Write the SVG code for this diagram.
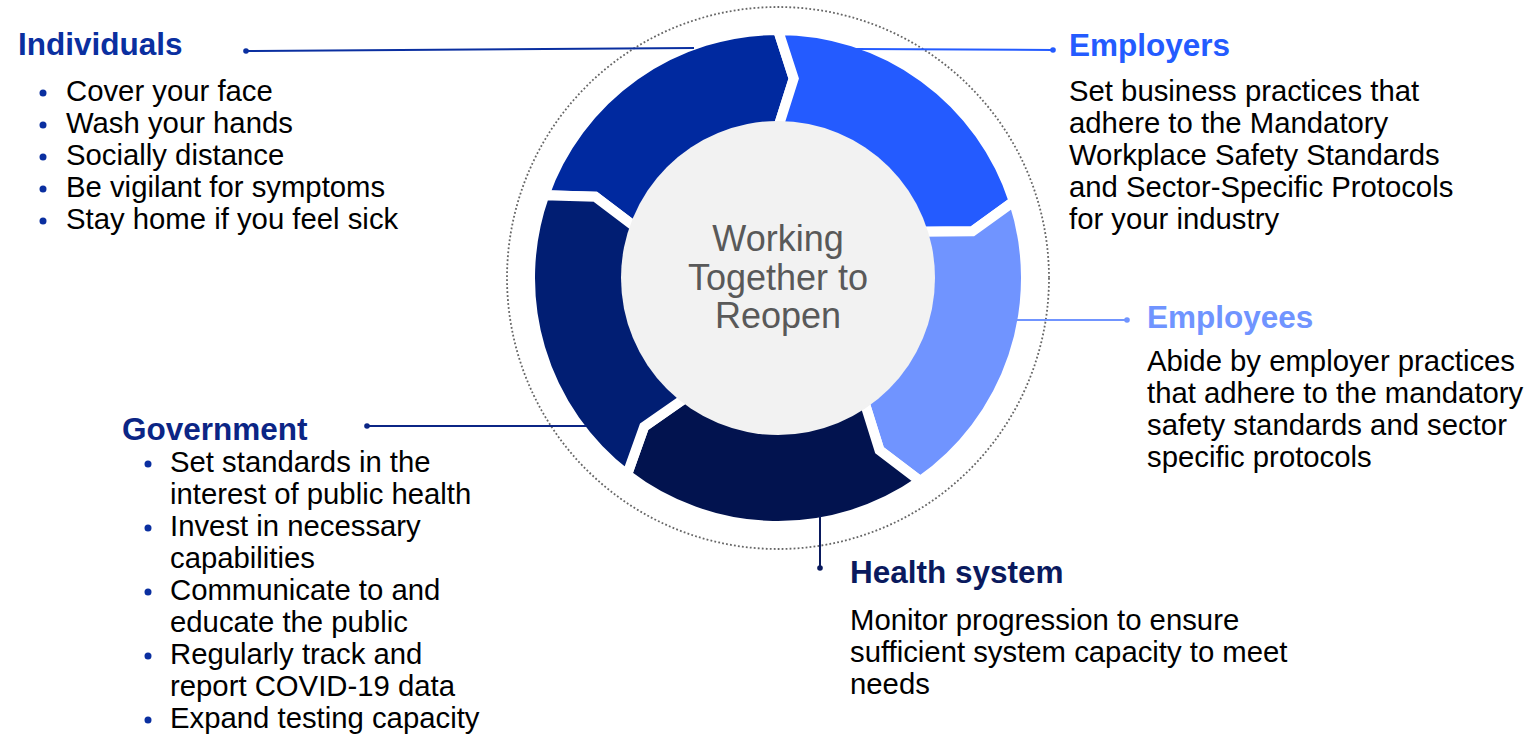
<svg xmlns="http://www.w3.org/2000/svg" width="1537" height="734" viewBox="0 0 1537 734">
<style>
.h{font-family:"Liberation Sans",Arial,sans-serif;font-weight:bold;font-size:31.5px}
.b{font-family:"Liberation Sans",Arial,sans-serif;font-size:29.3px;fill:#000}
.c{font-family:"Liberation Sans",Arial,sans-serif;font-size:36px;fill:#595959;text-anchor:middle}
.seg{stroke:#fff;stroke-width:10;stroke-linejoin:miter}
.ln{fill:none;stroke-width:2}
.dot{stroke:none}
.bul{fill:#0A2FA0}
</style>
<rect width="1537" height="734" fill="#fff"/>
<circle cx="778" cy="278" r="271" fill="none" stroke="#666" stroke-width="1.8" stroke-dasharray="1.8 2.2"/>
<g id="ring">
<path id="seg-individuals" class="seg" fill="#00299F" d="M544.24 195.22 A248 248 0 0 1 778 30 L793.7 78.62 L778 128 A150 150 0 0 0 636.61 227.93 L595.3 196.66 Z"/>
<path id="seg-employers" class="seg" fill="#245BFF" d="M778 30 A248 248 0 0 1 1013.87 201.37 L972.48 231.32 L920.67 231.65 A150 150 0 0 0 778 128 L793.7 78.62 Z"/>
<path id="seg-employees" class="seg" fill="#7094FF" d="M1013.87 201.37 A248 248 0 0 1 920.25 481.15 L879.5 450.32 L864.04 400.88 A150 150 0 0 0 920.67 231.65 L972.48 231.32 Z"/>
<path id="seg-health" class="seg" fill="#02134F" d="M920.25 481.15 A248 248 0 0 1 627.02 474.76 L644.18 426.62 L686.68 397.01 A150 150 0 0 0 864.04 400.88 L879.5 450.32 Z"/>
<path id="seg-government" class="seg" fill="#011E73" d="M627.02 474.76 A248 248 0 0 1 544.24 195.22 L595.3 196.66 L636.61 227.93 A150 150 0 0 0 686.68 397.01 L644.18 426.62 Z"/>
</g>
<g id="center">
<circle cx="778" cy="278" r="157" fill="#F2F2F2"/>
<text class="c" x="778" y="251">Working</text>
<text class="c" x="778" y="290">Together to</text>
<text class="c" x="778" y="328">Reopen</text>
</g>
<g id="connectors">
<line class="ln" x1="246" y1="51" x2="694" y2="48" stroke="#0A2FA0"/>
<circle class="dot" cx="246" cy="51" r="2.8" fill="#0A2FA0"/>
<line class="ln" x1="856" y1="49" x2="1053" y2="50" stroke="#245BFF"/>
<circle class="dot" cx="1053" cy="50" r="2.8" fill="#245BFF"/>
<line class="ln" x1="1016" y1="320" x2="1127" y2="320" stroke="#7094FF"/>
<circle class="dot" cx="1127" cy="320" r="2.8" fill="#7094FF"/>
<line class="ln" x1="367" y1="426" x2="586" y2="426" stroke="#0B2585"/>
<circle class="dot" cx="367" cy="426" r="2.8" fill="#0B2585"/>
<line class="ln" x1="820" y1="516" x2="820" y2="568" stroke="#0A1A5E"/>
<circle class="dot" cx="820" cy="568" r="2.8" fill="#0A1A5E"/>
</g>
<g id="individuals">
<text class="h" x="18" y="55" fill="#0A2FA0">Individuals</text>
<circle class="bul" cx="43" cy="93" r="3.5"/>
<circle class="bul" cx="43" cy="125" r="3.5"/>
<circle class="bul" cx="43" cy="157" r="3.5"/>
<circle class="bul" cx="43" cy="189" r="3.5"/>
<circle class="bul" cx="43" cy="221" r="3.5"/>
<text class="b" x="66" y="101">Cover your face</text>
<text class="b" x="66" y="133">Wash your hands</text>
<text class="b" x="66" y="165">Socially distance</text>
<text class="b" x="66" y="197">Be vigilant for symptoms</text>
<text class="b" x="66" y="229">Stay home if you feel sick</text>
</g>
<g id="employers">
<text class="h" x="1069" y="56" fill="#245BFF">Employers</text>
<text class="b" x="1069" y="101">Set business practices that</text>
<text class="b" x="1069" y="133">adhere to the Mandatory</text>
<text class="b" x="1069" y="165">Workplace Safety Standards</text>
<text class="b" x="1069" y="197">and Sector-Specific Protocols</text>
<text class="b" x="1069" y="229">for your industry</text>
</g>
<g id="employees">
<text class="h" x="1147" y="328" fill="#7094FF">Employees</text>
<text class="b" x="1147" y="371">Abide by employer practices</text>
<text class="b" x="1147" y="403">that adhere to the mandatory</text>
<text class="b" x="1147" y="435">safety standards and sector</text>
<text class="b" x="1147" y="467">specific protocols</text>
</g>
<g id="government">
<text class="h" x="122" y="440" fill="#0B2585">Government</text>
<circle class="bul" cx="148" cy="464" r="3.5"/>
<circle class="bul" cx="148" cy="528" r="3.5"/>
<circle class="bul" cx="148" cy="592" r="3.5"/>
<circle class="bul" cx="148" cy="656" r="3.5"/>
<circle class="bul" cx="148" cy="720" r="3.5"/>
<text class="b" x="170" y="472">Set standards in the</text>
<text class="b" x="170" y="504">interest of public health</text>
<text class="b" x="170" y="536">Invest in necessary</text>
<text class="b" x="170" y="568">capabilities</text>
<text class="b" x="170" y="600">Communicate to and</text>
<text class="b" x="170" y="632">educate the public</text>
<text class="b" x="170" y="664">Regularly track and</text>
<text class="b" x="170" y="696">report COVID-19 data</text>
<text class="b" x="170" y="728">Expand testing capacity</text>
</g>
<g id="health">
<text class="h" x="850" y="583" fill="#0A1A5E">Health system</text>
<text class="b" x="850" y="630">Monitor progression to ensure</text>
<text class="b" x="850" y="662">sufficient system capacity to meet</text>
<text class="b" x="850" y="694">needs</text>
</g>
</svg>
